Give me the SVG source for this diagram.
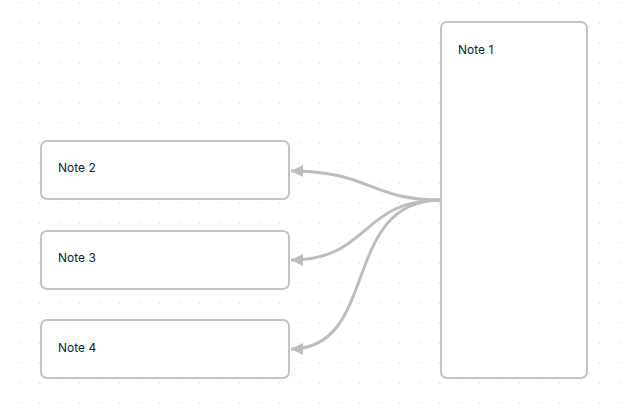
<svg xmlns="http://www.w3.org/2000/svg" width="624" height="417" viewBox="0 0 624 417">
<defs>
<pattern id="dots" x="18" y="2" width="20" height="20" patternUnits="userSpaceOnUse"><rect x="0.5" y="0.5" width="1.2" height="1.2" fill="#d6d6d6"/></pattern>
<marker id="ah" markerWidth="14" markerHeight="14" refX="12" refY="6" orient="auto" markerUnits="userSpaceOnUse"><path d="M0,0 L12,6 L0,12 Z" fill="#bdbdbd"/></marker>
</defs>
<style>
.n rect{fill:#fff;stroke:#c4c4c4;stroke-width:2}
.n text{font-family:Inter,"Liberation Sans",sans-serif;font-size:12px;fill:#222}
.c path{fill:none;stroke:#bdbdbd;stroke-width:3}
</style>
<rect width="624" height="417" fill="#fff"/>
<rect width="624" height="417" fill="url(#dots)"/>
<g class="n" id="note1"><rect x="441" y="22" width="146" height="356" rx="6"/><text x="458" y="54">Note 1</text></g>
<g class="n" id="note2"><rect x="41" y="141" width="248" height="58" rx="6"/><text x="58" y="172">Note 2</text></g>
<g class="n" id="note3"><rect x="41" y="231" width="248" height="58" rx="6"/><text x="58" y="262">Note 3</text></g>
<g class="n" id="note4"><rect x="41" y="320" width="248" height="58" rx="6"/><text x="58" y="352">Note 4</text></g>
<g class="c" id="connectors">
<path d="M441,200 C370,200 370,171 291,171" marker-end="url(#ah)"/>
<path d="M441,200 C360,200 370,260 291,260" marker-end="url(#ah)"/>
<path d="M441,200 C340,200 380,349 291,349" marker-end="url(#ah)"/>
</g>
</svg>
